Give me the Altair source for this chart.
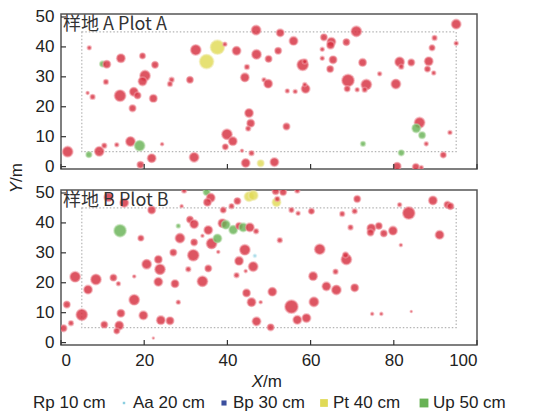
import altair as alt
import pandas as pd

# ---------------- Plot A ----------------
a_x = [1.6, 6.8, 10.0, 11.0, 14.4, 19.6, 22.6, 10.8, 20.2, 19.6, 26.6, 26.2, 31.0, 6.4, 7.6, 14.2, 17.5, 18.4, 22.2, 17.2,
       16.7, 18.9, 9.2, 10.4, 13.4, 6.7, 24.3, 21.8, 19.1, 32.0, 32.4, 37.6, 35.0, 39.4, 46.9, 52.7, 55.9, 63.2, 65.0, 64.8,
       62.8, 42.2, 47.0, 52.2, 49.9, 62.8, 65.4, 64.7, 58.1, 58.6, 44.7, 44.2, 48.8, 49.8, 54.4, 56.3, 58.8, 58.6, 45.2, 45.6,
       45.0, 54.2, 39.9, 41.3, 39.5, 43.5, 45.8, 44.4, 48.0, 51.3, 71.0, 95.0, 68.6, 89.8, 89.2, 95.0, 72.5, 81.4, 81.8, 84.2,
       88.4, 88.1, 89.6, 76.6, 69.0, 68.8, 71.2, 73.4, 73.0, 80.5, 86.2, 85.4, 86.8, 93.5, 87.8, 72.6, 81.8, 91.9, 80.8, 85.3,
       86.6]
a_y = [5.0, 39.7, 34.3, 34.2, 36.2, 37.0, 34.0, 28.3, 30.4, 28.5, 29.0, 27.6, 29.0, 24.6, 23.3, 23.7, 25.0, 23.8, 22.8, 19.5,
       8.4, 7.0, 5.1, 7.0, 7.3, 4.0, 7.5, 2.8, 0.6, 3.1, 39.0, 39.9, 35.1, 40.9, 45.6, 44.7, 42.0, 43.2, 41.7, 40.6,
       39.2, 38.7, 37.5, 38.7, 36.0, 36.2, 35.7, 32.6, 34.0, 35.1, 33.3, 29.8, 29.0, 27.7, 25.3, 25.1, 26.0, 27.4, 17.9, 14.5,
       12.7, 13.4, 10.8, 8.5, 6.6, 5.3, 4.5, 1.2, 1.1, 1.5, 45.2, 47.6, 41.6, 43.0, 39.7, 41.2, 34.8, 35.0, 33.4, 34.8,
       35.2, 32.6, 31.3, 31.0, 28.8, 26.0, 25.7, 27.4, 25.7, 27.6, 14.7, 12.8, 10.5, 11.4, 7.6, 7.6, 4.6, 3.9, 0.1, -0.1,
       -0.3]
a_d = [22, 8, 12, 16, 18, 12, 14, 10, 22, 18, 10, 10, 14, 6, 10, 24, 18, 14, 16, 14,
       20, 22, 20, 10, 8, 12, 6, 18, 14, 20, 22, 30, 30, 8, 20, 16, 18, 14, 18, 16,
       8, 18, 20, 14, 14, 8, 16, 14, 24, 10, 10, 18, 8, 18, 8, 8, 18, 8, 18, 16,
       10, 14, 22, 18, 12, 6, 10, 18, 14, 18, 22, 20, 14, 10, 12, 8, 16, 20, 10, 14,
       18, 12, 8, 8, 26, 12, 8, 22, 10, 20, 22, 18, 14, 8, 8, 10, 12, 12, 16, 14,
       8]
a_sp = ["Rp", "Rp", "Up", "Rp", "Rp", "Rp", "Rp", "Rp", "Rp", "Rp", "Rp", "Rp", "Rp", "Rp", "Rp", "Rp", "Rp", "Rp", "Rp", "Rp",
        "Rp", "Up", "Rp", "Rp", "Rp", "Up", "Rp", "Rp", "Rp", "Rp", "Rp", "Pt", "Pt", "Rp", "Rp", "Rp", "Rp", "Rp", "Rp", "Rp",
        "Rp", "Rp", "Rp", "Rp", "Rp", "Rp", "Rp", "Rp", "Rp", "Rp", "Rp", "Rp", "Rp", "Rp", "Rp", "Rp", "Rp", "Rp", "Rp", "Rp",
        "Rp", "Rp", "Rp", "Rp", "Rp", "Rp", "Rp", "Rp", "Pt", "Rp", "Rp", "Rp", "Rp", "Rp", "Rp", "Rp", "Rp", "Rp", "Rp", "Rp",
        "Rp", "Rp", "Rp", "Rp", "Rp", "Rp", "Rp", "Rp", "Rp", "Rp", "Rp", "Up", "Up", "Rp", "Rp", "Up", "Up", "Rp", "Rp", "Rp",
        "Rp"]

# ---------------- Plot B ----------------
b_x = [14.2, 19.2, 21.8, 15.2, 11.4, 29.6, 29.0, 31.0, 32.0, 28.2, 28.6, 32.0, 31.8, 27.0, 23.4, 20.6, 23.8, 30.6, 23.4, 27.4,
       3.4, 8.4, 12.6, 13.8, 17.6, 6.5, 17.6, 28.2, 1.4, 5.0, 14.4, 19.8, 10.4, 14.0, 13.4, 24.0, 26.2, 2.4, 0.6, 22.2,
       35.0, 36.0, 35.2, 42.4, 41.0, 39.0, 45.2, 46.2, 51.6, 53.4, 56.8, 51.8, 52.0, 55.4, 57.0, 60.2, 38.8, 39.6, 41.4, 42.8,
       43.8, 45.4, 46.9, 35.4, 34.0, 36.2, 37.6, 37.8, 44.2, 52.6, 46.6, 62.2, 42.8, 46.2, 44.4, 42.2, 35.4, 34.0, 44.6, 50.8,
       45.8, 48.0, 55.4, 60.8, 60.6, 63.8, 66.0, 47.0, 56.8, 59.0, 50.4, 66.2, 71.2, 67.6, 70.6, 81.4, 83.6, 89.4, 92.9, 93.6,
       69.6, 74.6, 74.4, 76.4, 77.6, 79.8, 91.0, 81.7, 68.6, 68.4, 70.6, 74.8, 77.0, 84.2]
b_y = [37.4, 34.9, 44.3, 46.7, 48.6, 50.8, 45.6, 41.1, 39.6, 39.0, 34.9, 33.5, 29.2, 30.1, 27.8, 26.2, 24.5, 24.5, 20.3, 19.7,
       22.0, 21.1, 21.7, 19.7, 22.1, 17.7, 14.3, 13.5, 12.7, 9.3, 9.8, 9.1, 6.0, 5.7, 3.9, 7.5, 7.3, 6.5, 4.8, 1.5,
       50.3, 48.4, 46.9, 47.3, 45.6, 44.3, 48.8, 49.2, 50.6, 50.3, 50.8, 46.9, 48.0, 44.3, 43.2, 43.9, 39.9, 39.4, 37.7, 39.0,
       38.5, 38.5, 37.2, 37.6, 35.7, 33.1, 34.8, 30.3, 31.0, 34.2, 29.0, 31.2, 27.3, 25.4, 23.9, 22.5, 24.8, 20.5, 16.6, 17.0,
       13.5, 13.5, 12.0, 13.6, 22.2, 18.8, 23.7, 7.1, 7.6, 8.2, 5.1, 17.6, 48.0, 43.0, 43.9, 46.1, 43.3, 47.5, 46.1, 45.6,
       38.5, 38.2, 36.8, 39.0, 36.5, 37.4, 36.0, 32.6, 27.8, 29.3, 18.3, 9.6, 9.6, 10.4]
b_d = [26, 12, 16, 18, 18, 10, 6, 14, 18, 8, 20, 14, 24, 14, 16, 20, 22, 10, 18, 16,
       22, 22, 14, 8, 6, 18, 22, 8, 14, 24, 16, 18, 14, 18, 12, 18, 16, 10, 14, 4,
       14, 18, 16, 14, 10, 12, 20, 20, 14, 14, 10, 18, 10, 10, 8, 12, 18, 18, 18, 14,
       18, 18, 10, 18, 6, 22, 18, 6, 22, 10, 6, 22, 18, 20, 6, 10, 14, 22, 16, 18,
       18, 6, 28, 20, 18, 18, 10, 18, 18, 18, 14, 20, 14, 10, 10, 8, 26, 18, 14, 14,
       10, 18, 14, 14, 14, 18, 18, 6, 22, 12, 16, 6, 6, 4]
b_sp = ["Up", "Rp", "Rp", "Rp", "Rp", "Rp", "Rp", "Rp", "Rp", "Up", "Rp", "Rp", "Rp", "Rp", "Rp", "Rp", "Rp", "Rp", "Rp", "Rp",
        "Rp", "Rp", "Rp", "Rp", "Rp", "Rp", "Rp", "Rp", "Rp", "Rp", "Rp", "Rp", "Rp", "Rp", "Rp", "Rp", "Rp", "Rp", "Rp", "Rp",
        "Up", "Rp", "Rp", "Rp", "Rp", "Rp", "Pt", "Pt", "Rp", "Rp", "Rp", "Pt", "Rp", "Rp", "Rp", "Rp", "Rp", "Up", "Up", "Rp",
        "Up", "Rp", "Rp", "Rp", "Rp", "Rp", "Up", "Rp", "Rp", "Rp", "Aa", "Rp", "Rp", "Rp", "Rp", "Rp", "Rp", "Rp", "Rp", "Rp",
        "Rp", "Rp", "Rp", "Rp", "Rp", "Rp", "Rp", "Rp", "Rp", "Rp", "Rp", "Rp", "Rp", "Rp", "Rp", "Rp", "Rp", "Rp", "Rp", "Rp",
        "Rp", "Rp", "Rp", "Rp", "Rp", "Rp", "Rp", "Rp", "Rp", "Rp", "Rp", "Rp", "Rp", "Rp"]

species = ["Rp", "Aa", "Bp", "Pt", "Up"]
species_labels = ["Rp 10 cm", "Aa 20 cm", "Bp 30 cm", "Pt 40 cm", "Up 50 cm"]
legend_symbol_sizes = [0, 6, 26, 60, 78]
fill_colors = ["#d62f3f", "#8ccfe0", "#3b4f9e", "#e0da56", "#68b255"]
halo_colors = ["#f09aa4", "#c5e8f0", "#8e9ad0", "#eeeaa8", "#b2dba6"]
panel_titles = ["样地 A Plot A", "样地 B Plot B"]
x_title = ["X", "/m"]
y_title = ["Y", "/m"]
x_ticks = [0, 20, 40, 60, 80, 100]
y_ticks = [0, 10, 20, 30, 40, 50]
core_x = [5, 95]
core_y = [5, 45]

W, H = 416, 155
label_map = dict(zip(species, species_labels))
FONT = "Liberation Sans"

xs = alt.Scale(domain=[0, 100], nice=False, zero=False)
ys = alt.Scale(domain=[-0.8, 51], nice=False, zero=False)
size_scale = alt.Scale(type="pow", exponent=2, domain=[0, 30], range=[0, 195])
fill_scale = alt.Scale(domain=species_labels, range=fill_colors)
stroke_scale = alt.Scale(domain=species_labels, range=halo_colors)


def title_pair(texts, x, y, angle):
    """Italic variable letter + upright unit, as two texts meeting at one point."""
    a = alt.Chart(pd.DataFrame({"t": [texts[0]]})).mark_text(
        align="right", baseline="middle", angle=angle, font=FONT, fontSize=17, fontStyle="italic", color="#222"
    ).encode(x=alt.value(x), y=alt.value(y), text="t:N")
    b = alt.Chart(pd.DataFrame({"t": [texts[1]]})).mark_text(
        align="left", baseline="middle", angle=angle, font=FONT, fontSize=17, color="#222"
    ).encode(x=alt.value(x), y=alt.value(y), text="t:N")
    return [a, b]


def legend_layers(y):
    leg_df = pd.DataFrame({"label": species_labels, "ls": legend_symbol_sizes})
    leg_x = alt.X("label:N", scale=alt.Scale(domain=species_labels, range=[-37, 363], padding=0), axis=None)
    sym = alt.Chart(leg_df).mark_square(opacity=1).encode(
        x=leg_x, y=alt.value(y),
        size=alt.Size("ls:Q", scale=None, legend=None),
        fill=alt.Fill("label:N", scale=fill_scale, legend=None),
    )
    txt = alt.Chart(leg_df).mark_text(
        align="left", baseline="middle", dx=9, fontSize=17, font=FONT, color="#222"
    ).encode(x=leg_x, y=alt.value(y), text="label:N")
    return alt.layer(sym, txt)


def panel(xv, yv, dv, spv, title, bottom):
    df = pd.DataFrame({"x": xv, "y": yv, "d": dv, "label": [label_map[s] for s in spv]})
    if bottom:
        xaxis = alt.Axis(values=x_ticks, title=None, labelFontSize=17, labelPadding=7,
                         labelOverlap=False, ticks=False, domain=False, grid=False)
    else:
        xaxis = alt.Axis(values=x_ticks, labels=False, title=None, ticks=False, domain=False, grid=False)
    yaxis = alt.Axis(values=y_ticks, title=None, labelFontSize=17, labelPadding=7,
                     labelOverlap=False, ticks=False, domain=False, grid=False)
    X = lambda f: alt.X(f, scale=xs, axis=xaxis)
    Y = lambda f: alt.Y(f, scale=ys, axis=yaxis)

    pts = alt.Chart(df).mark_circle(clip=True, fillOpacity=0.82, strokeWidth=1.8, strokeOpacity=0.55).encode(
        x=X("x:Q"), y=Y("y:Q"),
        size=alt.Size("d:Q", scale=size_scale, legend=None),
        fill=alt.Fill("label:N", scale=fill_scale, legend=None),
        stroke=alt.Stroke("label:N", scale=stroke_scale, legend=None),
    )
    core = alt.Chart(pd.DataFrame({"x": [core_x[0]], "x2": [core_x[1]], "y": [core_y[0]], "y2": [core_y[1]]})).mark_rect(
        filled=False, stroke="#b5b5b5", strokeDash=[1.5, 2], strokeWidth=1.2
    ).encode(x=X("x:Q"), x2="x2", y=Y("y:Q"), y2="y2")
    xt = alt.Chart(pd.DataFrame({"x": x_ticks})).mark_rule(color="#333", strokeWidth=1.2).encode(
        x=X("x:Q"), y=alt.value(H), y2=alt.value(H - 5))
    yt = alt.Chart(pd.DataFrame({"y": y_ticks})).mark_rule(color="#333", strokeWidth=1.2).encode(
        y=Y("y:Q"), x=alt.value(0), x2=alt.value(5))
    txt = alt.Chart(pd.DataFrame({"t": [title]})).mark_text(
        align="left", baseline="top", font="Noto Sans CJK SC", fontSize=18, color="#333"
    ).encode(x=alt.value(2), y=alt.value(2), text="t:N")
    layers = [core, pts, xt, yt, txt]
    if bottom:
        layers += title_pair(x_title, W / 2 - 6, H + 37, 0)
    else:
        layers += title_pair(y_title, -44, H + 13, 270)
    main = alt.layer(*layers)
    if bottom:
        return alt.layer(main, legend_layers(H + 58)).resolve_scale(
            x="independent", size="independent").properties(width=W, height=H)
    return main.properties(width=W, height=H)


top = panel(a_x, a_y, a_d, a_sp, panel_titles[0], False)
bot = panel(b_x, b_y, b_d, b_sp, panel_titles[1], True)

chart = alt.vconcat(top, bot, spacing=21, bounds="flush").resolve_scale(
    fill="shared", stroke="shared"
).configure_view(
    stroke="#555", strokeWidth=1.5
).configure_axis(
    labelFont=FONT, titleFont=FONT, labelColor="#222", titleColor="#222"
).properties(
    padding={"left": 7, "top": 7, "right": 5, "bottom": 5}
)

chart.save("out.html", embed_options={"renderer": "svg", "actions": False})
